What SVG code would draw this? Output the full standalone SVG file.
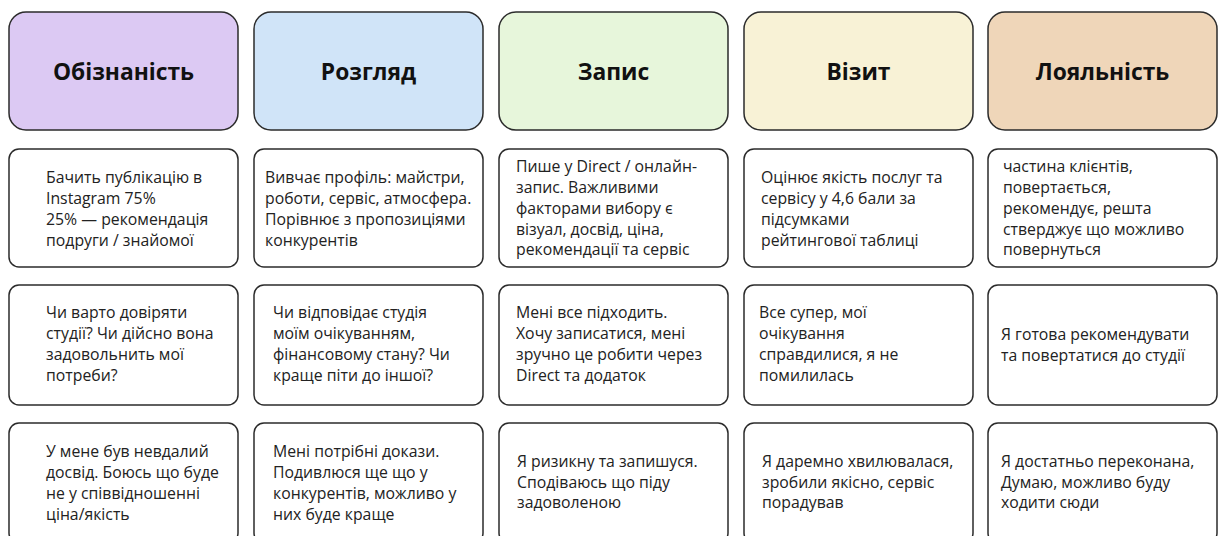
<svg xmlns="http://www.w3.org/2000/svg" width="1220" height="536" viewBox="0 0 1220 536">
<style>
.hd{stroke:#2b2b2b;stroke-width:1.5}
.bx{fill:#ffffff;stroke:#2b2b2b;stroke-width:1.5}
.ht{font-family:"Open Sans","Noto Sans",sans-serif;font-weight:700;font-size:22.8px;fill:#111;text-anchor:middle}
.t{font-family:"Open Sans","Noto Sans",sans-serif;font-size:15.8px;fill:#222}
</style>
<rect width="1220" height="536" fill="#ffffff"/>
<g id="connectors"/>
<!-- headers -->
<g id="h1"><rect class="hd" x="9" y="12" width="229" height="118" rx="17" fill="#DCC9F3"/><text class="ht" x="123.5" y="80">Обізнаність</text></g>
<g id="h2"><rect class="hd" x="254" y="12" width="229" height="118" rx="17" fill="#D0E4F8"/><text class="ht" x="368.5" y="80">Розгляд</text></g>
<g id="h3"><rect class="hd" x="499" y="12" width="229" height="118" rx="17" fill="#E7F6DB"/><text class="ht" x="613.5" y="80">Запис</text></g>
<g id="h4"><rect class="hd" x="744" y="12" width="229" height="118" rx="17" fill="#F8F2D6"/><text class="ht" x="858.5" y="80">Візит</text></g>
<g id="h5"><rect class="hd" x="988" y="12" width="229" height="118" rx="17" fill="#EFD6B9"/><text class="ht" x="1102.5" y="80">Лояльність</text></g>
<!-- row 2 -->
<g id="r2c1"><rect class="bx" x="9" y="149" width="229" height="118" rx="10"/>
<text class="t"><tspan x="46" y="183">Бачить публікацію в</tspan><tspan x="46" y="204">Instagram 75%</tspan><tspan x="46" y="225">25% — рекомендація</tspan><tspan x="46" y="246">подруги / знайомої</tspan></text></g>
<g id="r2c2"><rect class="bx" x="254" y="149" width="229" height="118" rx="10"/>
<text class="t"><tspan x="265" y="183">Вивчає профіль: майстри,</tspan><tspan x="265" y="204">роботи, сервіс, атмосфера.</tspan><tspan x="265" y="225">Порівнює з пропозиціями</tspan><tspan x="265" y="246">конкурентів</tspan></text></g>
<g id="r2c3"><rect class="bx" x="499" y="149" width="229" height="118" rx="10"/>
<text class="t"><tspan x="516" y="172">Пише у Direct / онлайн-</tspan><tspan x="516" y="193">запис. Важливими</tspan><tspan x="516" y="214">факторами вибору є</tspan><tspan x="516" y="235">візуал, досвід, ціна,</tspan><tspan x="516" y="255">рекомендації та сервіс</tspan></text></g>
<g id="r2c4"><rect class="bx" x="744" y="149" width="229" height="118" rx="10"/>
<text class="t"><tspan x="761" y="183">Оцінює якість послуг та</tspan><tspan x="761" y="204">сервісу у 4,6 бали за</tspan><tspan x="761" y="225">підсумками</tspan><tspan x="761" y="246">рейтингової таблиці</tspan></text></g>
<g id="r2c5"><rect class="bx" x="988" y="149" width="229" height="118" rx="10"/>
<text class="t"><tspan x="1003" y="172">частина клієнтів,</tspan><tspan x="1003" y="193">повертається,</tspan><tspan x="1003" y="214">рекомендує, решта</tspan><tspan x="1003" y="235">стверджує що можливо</tspan><tspan x="1003" y="255">повернуться</tspan></text></g>
<!-- row 3 -->
<g id="r3c1"><rect class="bx" x="9" y="285" width="229" height="120" rx="10"/>
<text class="t"><tspan x="46" y="318">Чи варто довіряти</tspan><tspan x="46" y="339">студії? Чи дійсно вона</tspan><tspan x="46" y="360">задовольнить мої</tspan><tspan x="46" y="381">потреби?</tspan></text></g>
<g id="r3c2"><rect class="bx" x="254" y="285" width="229" height="120" rx="10"/>
<text class="t"><tspan x="273" y="318">Чи відповідає студія</tspan><tspan x="273" y="339">моїм очікуванням,</tspan><tspan x="273" y="360">фінансовому стану? Чи</tspan><tspan x="273" y="381">краще піти до іншої?</tspan></text></g>
<g id="r3c3"><rect class="bx" x="499" y="285" width="229" height="120" rx="10"/>
<text class="t"><tspan x="516" y="318">Мені все підходить.</tspan><tspan x="516" y="339">Хочу записатися, мені</tspan><tspan x="516" y="360">зручно це робити через</tspan><tspan x="516" y="381">Direct та додаток</tspan></text></g>
<g id="r3c4"><rect class="bx" x="744" y="285" width="229" height="120" rx="10"/>
<text class="t"><tspan x="759" y="318">Все супер, мої</tspan><tspan x="759" y="339">очікування</tspan><tspan x="759" y="360">справдилися, я не</tspan><tspan x="759" y="381">помилилась</tspan></text></g>
<g id="r3c5"><rect class="bx" x="988" y="285" width="229" height="120" rx="10"/>
<text class="t"><tspan x="1001" y="340">Я готова рекомендувати</tspan><tspan x="1001" y="361">та повертатися до студії</tspan></text></g>
<!-- row 4 -->
<g id="r4c1"><rect class="bx" x="9" y="423" width="229" height="120" rx="10"/>
<text class="t"><tspan x="46" y="457">У мене був невдалий</tspan><tspan x="46" y="478">досвід. Боюсь що буде</tspan><tspan x="46" y="499">не у співвідношенні</tspan><tspan x="46" y="520">ціна/якість</tspan></text></g>
<g id="r4c2"><rect class="bx" x="254" y="423" width="229" height="120" rx="10"/>
<text class="t"><tspan x="273" y="457">Мені потрібні докази.</tspan><tspan x="273" y="478">Подивлюся ще що у</tspan><tspan x="273" y="499">конкурентів, можливо у</tspan><tspan x="273" y="520">них буде краще</tspan></text></g>
<g id="r4c3"><rect class="bx" x="499" y="423" width="229" height="120" rx="10"/>
<text class="t"><tspan x="517" y="467">Я ризикну та запишуся.</tspan><tspan x="517" y="488">Сподіваюсь що піду</tspan><tspan x="517" y="508">задоволеною</tspan></text></g>
<g id="r4c4"><rect class="bx" x="744" y="423" width="229" height="120" rx="10"/>
<text class="t"><tspan x="762" y="467">Я даремно хвилювалася,</tspan><tspan x="762" y="488">зробили якісно, сервіс</tspan><tspan x="762" y="508">порадував</tspan></text></g>
<g id="r4c5"><rect class="bx" x="988" y="423" width="229" height="120" rx="10"/>
<text class="t"><tspan x="1001" y="467">Я достатньо переконана,</tspan><tspan x="1001" y="488">Думаю, можливо буду</tspan><tspan x="1001" y="508">ходити сюди</tspan></text></g>
</svg>
